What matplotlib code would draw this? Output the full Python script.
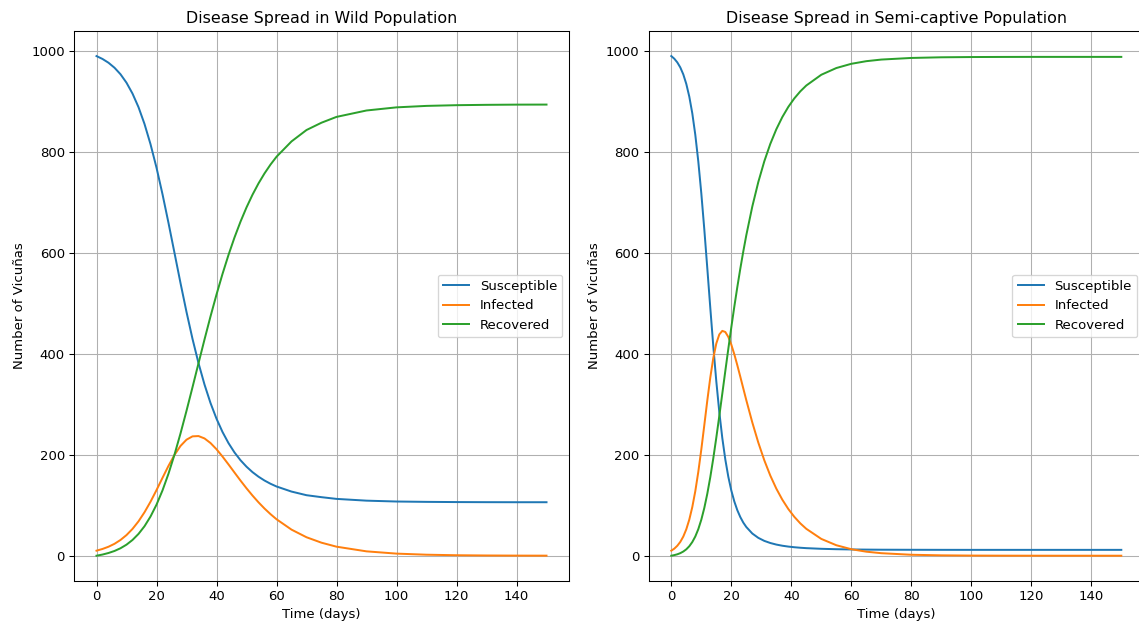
import matplotlib
matplotlib.use("Agg")
import matplotlib.pyplot as plt

# ---- Wild population ----
t_wild = [0, 2, 4, 6, 8, 10, 12, 14, 16, 18, 20, 22, 24, 26, 28, 30, 32, 34, 36, 38,
          40, 42, 44, 46, 48, 50, 52, 54, 56, 58, 60, 65, 70, 75, 80, 90, 100, 110,
          120, 130, 140, 150]
S_wild = [990, 984.3, 976.8, 966.9, 954.0, 937.2, 915.7, 888.8, 855.5, 815.5, 768.9,
          716.3, 659.3, 599.9, 540.3, 483.0, 429.7, 381.6, 339.2, 302.6, 271.5, 245.2,
          223.1, 204.6, 189.2, 176.4, 165.6, 156.6, 149.0, 142.6, 137.2, 127.1, 119.9,
          116.0, 112.6, 109.1, 107.4, 106.7, 106.3, 106.1, 106.0, 106.0]
I_wild = [10, 13.4, 17.8, 23.6, 31.2, 40.9, 53.1, 68.1, 86.1, 106.9, 130.0, 154.3,
          178.1, 199.7, 217.5, 229.9, 236.5, 237.1, 232.4, 223.3, 211.0, 196.5, 180.9,
          164.8, 148.9, 133.6, 119.2, 105.8, 93.5, 82.4, 72.3, 51.7, 36.6, 25.8, 17.9,
          8.65, 4.16, 2.0, 0.96, 0.46, 0.22, 0.11]
R_wild = [0, 2.3, 5.4, 9.4, 14.8, 21.9, 31.2, 43.2, 58.4, 77.6, 101.1, 129.4, 162.6,
          200.4, 242.2, 287.1, 333.8, 381.3, 428.4, 474.1, 517.5, 558.3, 596.0, 630.6,
          661.9, 690.1, 715.3, 737.7, 757.5, 775.0, 790.5, 820.9, 843.5, 858.0, 869.5,
          882.2, 888.4, 891.3, 892.7, 893.4, 893.8, 893.9]

# ---- Semi-captive population ----
t_semi = [0, 1, 2, 3, 4, 5, 6, 7, 8, 9, 10, 11, 12, 13, 14, 15, 16, 17, 18, 19, 20,
          21, 22, 23, 24, 25, 27, 29, 31, 33, 35, 37, 39, 41, 43, 45, 50, 55, 60, 65,
          70, 80, 90, 100, 110, 120, 130, 140, 150]
S_semi = [990, 984.8, 977.5, 967.5, 953.7, 934.8, 909.6, 876.5, 834.0, 781.2, 718.3,
          646.8, 569.7, 491.0, 415.1, 345.6, 284.7, 233.2, 190.9, 156.6, 129.3, 107.6,
          90.3, 76.6, 65.6, 56.9, 44.0, 35.4, 29.4, 25.2, 22.1, 19.8, 18.1, 16.8, 15.8,
          15.0, 13.7, 12.9, 12.4, 12.1, 11.9, 11.75, 11.65, 11.6, 11.6, 11.6, 11.6,
          11.6, 11.6]
I_semi = [10, 14.0, 19.7, 27.4, 38.0, 52.4, 71.6, 96.5, 127.9, 166.1, 210.4, 258.6,
          307.5, 353.2, 391.7, 420.5, 438.4, 445.5, 443.3, 433.6, 418.3, 399.2, 377.6,
          354.7, 331.4, 308.2, 264.1, 224.2, 189.1, 158.8, 133.0, 111.1, 92.6, 77.1,
          64.1, 53.3, 33.3, 20.8, 12.9, 8.0, 5.0, 1.9, 0.75, 0.29, 0.11, 0.04, 0.02,
          0.01, 0.0]
R_semi = [0, 1.2, 2.8, 5.1, 8.3, 12.7, 18.8, 27.1, 38.1, 52.6, 71.3, 94.6, 122.8,
          155.8, 193.1, 233.9, 276.9, 321.2, 365.8, 409.7, 452.4, 493.3, 532.1, 568.7,
          603.0, 635.0, 691.9, 740.4, 781.5, 816.0, 844.9, 869.1, 889.3, 906.1, 920.1,
          931.7, 953.0, 966.3, 974.7, 979.9, 983.1, 986.3, 987.6, 988.1, 988.3, 988.4,
          988.4, 988.4, 988.4]

titles = ["Disease Spread in Wild Population", "Disease Spread in Semi-captive Population"]
series_labels = ["Susceptible", "Infected", "Recovered"]

DPI = 95
W, H = 1139, 630
fig = plt.figure(figsize=(W / DPI, H / DPI), dpi=DPI)
ax_w, ax_h = 495 / W, 549.6 / H
bottom = 1 - 580.7 / H
ax1 = fig.add_axes([74 / W, bottom, ax_w, ax_h])
ax2 = fig.add_axes([648.8 / W, bottom, ax_w, ax_h])

datasets = [(t_wild, S_wild, I_wild, R_wild), (t_semi, S_semi, I_semi, R_semi)]
for ax, title, (t, S, I, R) in zip([ax1, ax2], titles, datasets):
    ax.plot(t, S, label=series_labels[0])
    ax.plot(t, I, label=series_labels[1])
    ax.plot(t, R, label=series_labels[2])
    ax.set_title(title)
    ax.set_xlabel("Time (days)")
    ax.set_ylabel("Number of Vicuñas")
    ax.grid(True)
    ax.legend(loc="center right")

fig.savefig("out.png", dpi=DPI)
